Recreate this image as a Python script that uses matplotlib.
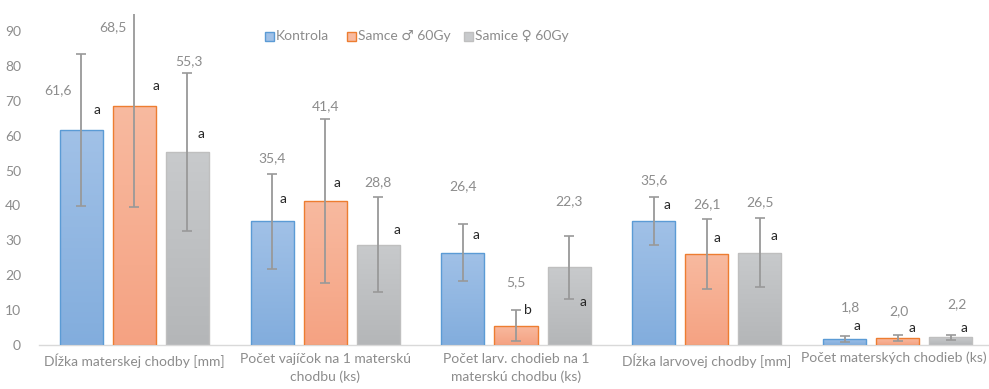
import matplotlib
matplotlib.use("Agg")
import matplotlib.pyplot as plt
import numpy as np
from matplotlib.colors import LinearSegmentedColormap
from matplotlib.transforms import blended_transform_factory, offset_copy

categories = [
    "Dĺžka materskej chodby [mm]",
    "Počet vajíčok na 1 materskú\nchodbu (ks)",
    "Počet larv. chodieb na 1\nmaterskú chodbu (ks)",
    "Dĺžka larvovej chodby [mm]",
    "Počet materských chodieb (ks)",
]
series_names = ["Kontrola", "Samce \u2642 60Gy", "Samice \u2640 60Gy"]

kontrola = [61.6, 35.4, 26.4, 35.6, 1.8]
samce = [68.5, 41.4, 5.5, 26.1, 2.0]
samice = [55.3, 28.8, 22.3, 26.5, 2.2]

kontrola_err = [21.7, 13.7, 8.2, 6.9, 0.8]
samce_err = [28.9, 23.5, 4.4, 10.0, 0.8]
samice_err = [22.6, 13.5, 9.0, 10.0, 0.7]

kontrola_sig = ["a", "a", "a", "a", "a"]
samce_sig = ["a", "a", "b", "a", "a"]
samice_sig = ["a", "a", "a", "a", "a"]

y_ticks = [0, 10, 20, 30, 40, 50, 60, 70, 80, 90]

values = [kontrola, samce, samice]
errors = [kontrola_err, samce_err, samice_err]
letters = [kontrola_sig, samce_sig, samice_sig]

# placement of the value labels (data units above the bar, x shift in category units)
value_label_y = [
    [73.1, 53.6, 45.6, 47.1, 10.8],
    [91.1, 68.5, 18.1, 40.4, 9.8],
    [81.4, 46.6, 41.1, 40.9, 11.7],
]
value_label_dx = [
    [-0.123, 0, 0, 0, 0.03],
    [-0.115, 0, 0, 0, 0.005],
    [0.01, 0, 0, 0, 0.035],
]
letter_y = [
    [67.4, 41.8, 31.5, 40.1, 5.5],
    [74.2, 46.4, 10.0, 30.6, 4.8],
    [60.5, 33.0, 12.2, 31.2, 4.8],
]
letter_dx = [
    [0.081, 0.058, 0.066, 0.072, 0.066],
    [0.113, 0.060, 0.061, 0.051, 0.073],
    [0.072, 0.10, 0.073, 0.073, 0.07],
]

face_top = ["#a1c1e7", "#f8baa0", "#c8cacc"]
face_bot = ["#82addd", "#f5a282", "#b4b6b8"]
edge_cols = ["#5b9bd5", "#ed7d31", "#bfbfbf"]

W, H = 989, 389
fig = plt.figure(figsize=(W / 100, H / 100), dpi=100)
fig.patch.set_facecolor("white")

ax_left, ax_right = 39, 993
ax_bottom, ax_top = 389 - 345, 389 - 13.5
ax = fig.add_axes([ax_left / W, ax_bottom / H, (ax_right - ax_left) / W, (ax_top - ax_bottom) / H])

font = ["Lato", "DejaVu Sans"]
gray_txt = "#8c8c8c"
fs = 10

n = len(categories)
x = np.arange(n) + 0.5
bw = 0.2254
step = 0.278
offsets = [-step, 0, step]

ax.set_xlim(0, n)
ax.set_ylim(0, 95)

for s in range(3):
    cmap = LinearSegmentedColormap.from_list("g%d" % s, [face_bot[s], face_top[s]])
    bars = ax.bar(x + offsets[s], values[s], width=bw, color="none",
                  edgecolor=edge_cols[s], linewidth=1.0, zorder=3)
    for b in bars:
        bx, by = b.get_x(), b.get_y()
        bwid, bh = b.get_width(), b.get_height()
        grad = np.linspace(0, 1, 256).reshape(-1, 1)
        im = ax.imshow(grad, cmap=cmap, origin="lower", aspect="auto",
                       extent=[bx, bx + bwid, by, by + bh], zorder=2)
        im.set_clip_path(b)
    ax.errorbar(x + offsets[s], values[s], yerr=errors[s], fmt="none",
                ecolor="#999999", elinewidth=1.3, capsize=3.5, capthick=1.2, zorder=4)
    for i in range(n):
        ax.text(x[i] + offsets[s] + value_label_dx[s][i], value_label_y[s][i],
                f"{values[s][i]:.1f}".replace(".", ","), ha="center", va="center",
                fontsize=fs, color=gray_txt, family=font, zorder=5)
        ax.text(x[i] + offsets[s] + letter_dx[s][i], letter_y[s][i], letters[s][i],
                ha="center", va="center", fontsize=fs, color="#262626",
                family=font, zorder=5)

# category labels: the last one sits at the right edge, so it is nudged inward
ax.set_xticks(x)
ax.set_xticklabels(categories[:-1] + [""], fontsize=fs, color=gray_txt, family=font,
                   linespacing=1.5)
edge_tr = offset_copy(blended_transform_factory(ax.transData, ax.transAxes),
                      fig=fig, x=-4, y=-6, units="dots")
ax.text(x[-1], 0, categories[-1], transform=edge_tr, ha="center", va="top",
        fontsize=fs, color=gray_txt, family=font)

ax.set_yticks(y_ticks)
ax.set_yticklabels([str(t) for t in y_ticks], fontsize=fs, color=gray_txt, family=font)
ax.tick_params(axis="both", length=0)
ax.tick_params(axis="x", pad=6)
ax.tick_params(axis="y", pad=13)

for side in ["top", "right", "left"]:
    ax.spines[side].set_visible(False)
ax.spines["bottom"].set_color("#d9d9d9")
ax.spines["bottom"].set_linewidth(1.0)

# legend drawn as squares and text in figure pixels
legend_items = [(269, "Kontrola"), (351, series_names[1]), (468, series_names[2])]
for s, (px, label) in enumerate(legend_items):
    sq = 9
    fig.patches.append(plt.Rectangle(((px - sq / 2) / W, (H - 36 - sq / 2) / H), sq / W, sq / H,
                                     transform=fig.transFigure, facecolor=face_top[s],
                                     edgecolor=edge_cols[s], linewidth=1.0))
    fig.text((px + 7) / W, (H - 36) / H, label, ha="left", va="center",
             fontsize=fs, color=gray_txt, family=font)

fig.savefig("out.png", dpi=100, facecolor="white")
